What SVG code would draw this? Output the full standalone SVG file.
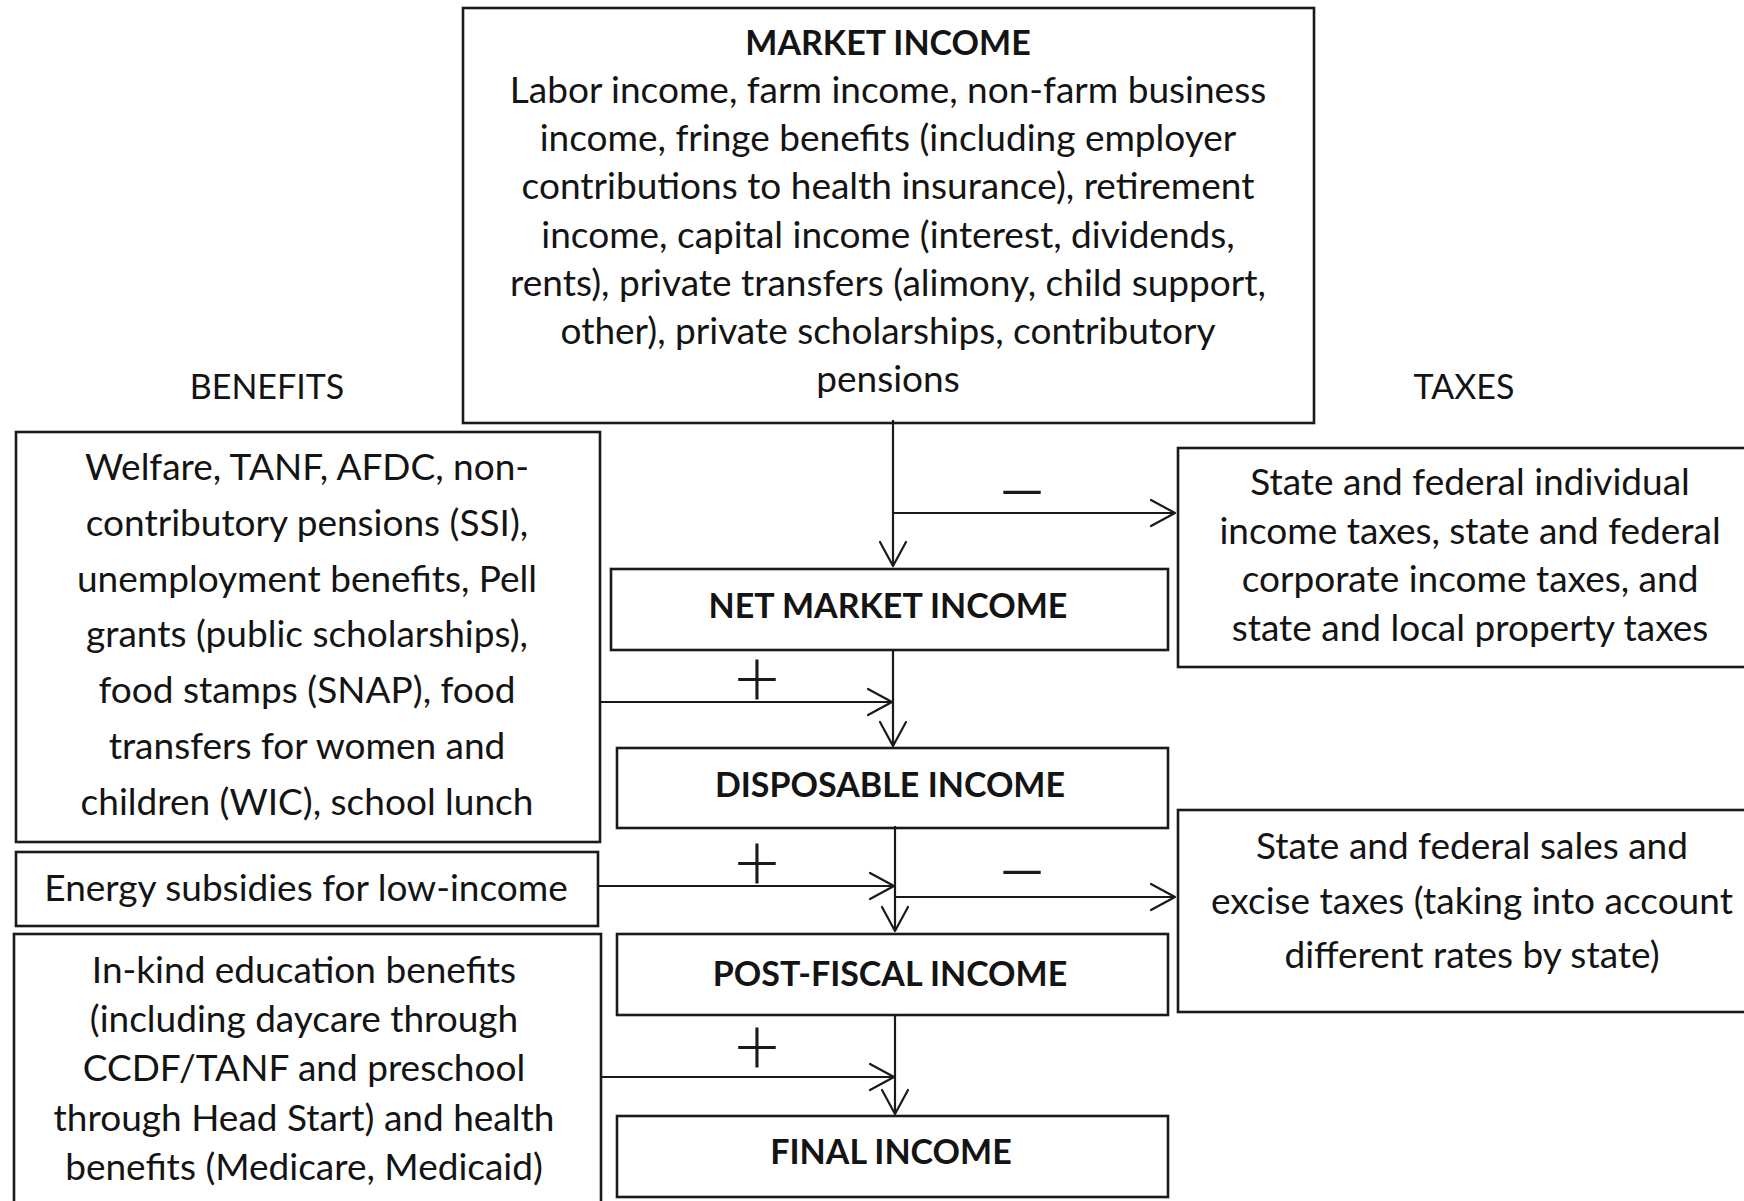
<svg xmlns="http://www.w3.org/2000/svg" width="1744" height="1201" viewBox="0 0 1744 1201">
  <defs>
    <marker id="open-arrow" markerUnits="userSpaceOnUse" markerWidth="40" markerHeight="40" viewBox="-30 -20 40 40" refX="0" refY="0" orient="auto" overflow="visible">
      <path d="M -24 -13 L 0 0 L -24 13" fill="none" stroke="#1a1a1a" stroke-width="2.2" stroke-linecap="round" stroke-linejoin="round"/>
    </marker>
    <style>
      .box { fill: #ffffff; stroke: #1a1a1a; stroke-width: 2.6; }
      .txt { font-family: Lato, "Open Sans", "Liberation Sans", sans-serif; font-size: 37px; fill: #141414; text-anchor: middle; }
      .head { font-size: 34px; }
      .title { font-weight: bold; font-size: 34px; }
      .sign { font-family: Lato, "DejaVu Sans", sans-serif; font-weight: 300; fill: #1a1a1a; text-anchor: middle; }
      .plus { font-size: 80px; }
      .minus { font-size: 95px; }
      .wire { fill: none; stroke: #1a1a1a; stroke-width: 2.2; }
      .arrow { marker-end: url(#open-arrow); }
    </style>
  </defs>

  <rect width="1744" height="1201" fill="#ffffff"/>

  <!-- column headings -->
  <g id="benefits-label">
    <text class="txt head" x="267" y="399">BENEFITS</text>
  </g>
  <g id="taxes-label">
    <text class="txt head" x="1464" y="399">TAXES</text>
  </g>

  <!-- top box -->
  <g id="market-income">
    <rect class="box" x="463" y="8" width="851" height="415"/>
    <text class="txt title" x="888" y="55">MARKET INCOME</text>
    <text class="txt" x="888" y="103">Labor income, farm income, non-farm business</text>
    <text class="txt" x="888" y="151">income, fringe benefits (including employer</text>
    <text class="txt" x="888" y="199">contributions to health insurance), retirement</text>
    <text class="txt" x="888" y="248">income, capital income (interest, dividends,</text>
    <text class="txt" x="888" y="296">rents), private transfers (alimony, child support,</text>
    <text class="txt" x="888" y="344">other), private scholarships, contributory</text>
    <text class="txt" x="888" y="392">pensions</text>
  </g>

  <!-- income stages -->
  <g id="net-market-income">
    <rect class="box" x="611" y="569" width="557" height="81"/>
    <text class="txt title" x="888" y="618">NET MARKET INCOME</text>
  </g>
  <g id="disposable-income">
    <rect class="box" x="617" y="748" width="551" height="80"/>
    <text class="txt title" x="890" y="797">DISPOSABLE INCOME</text>
  </g>
  <g id="post-fiscal-income">
    <rect class="box" x="617" y="934" width="551" height="81"/>
    <text class="txt title" x="890" y="986">POST-FISCAL INCOME</text>
  </g>
  <g id="final-income">
    <rect class="box" x="617" y="1116" width="551" height="81"/>
    <text class="txt title" x="891" y="1164">FINAL INCOME</text>
  </g>

  <!-- benefit sources -->
  <g id="cash-benefits">
    <rect class="box" x="16" y="432" width="584" height="410"/>
    <text class="txt" x="307" y="480">Welfare, TANF, AFDC, non-</text>
    <text class="txt" x="307" y="536">contributory pensions (SSI),</text>
    <text class="txt" x="307" y="592">unemployment benefits, Pell</text>
    <text class="txt" x="307" y="647">grants (public scholarships),</text>
    <text class="txt" x="307" y="703">food stamps (SNAP), food</text>
    <text class="txt" x="307" y="759">transfers for women and</text>
    <text class="txt" x="307" y="815">children (WIC), school lunch</text>
  </g>
  <g id="energy-subsidies">
    <rect class="box" x="16" y="852" width="582" height="74"/>
    <text class="txt" x="306" y="901">Energy subsidies for low-income</text>
  </g>
  <g id="in-kind-benefits">
    <rect class="box" x="14" y="934" width="587" height="290"/>
    <text class="txt" x="304" y="983">In-kind education benefits</text>
    <text class="txt" x="304" y="1032">(including daycare through</text>
    <text class="txt" x="304" y="1081">CCDF/TANF and preschool</text>
    <text class="txt" x="304" y="1131">through Head Start) and health</text>
    <text class="txt" x="304" y="1180">benefits (Medicare, Medicaid)</text>
  </g>

  <!-- tax sinks -->
  <g id="direct-taxes">
    <rect class="box" x="1178" y="448" width="590" height="219"/>
    <text class="txt" x="1470" y="495">State and federal individual</text>
    <text class="txt" x="1470" y="544">income taxes, state and federal</text>
    <text class="txt" x="1470" y="592">corporate income taxes, and</text>
    <text class="txt" x="1470" y="641">state and local property taxes</text>
  </g>
  <g id="indirect-taxes">
    <rect class="box" x="1178" y="810" width="590" height="202"/>
    <text class="txt" x="1472" y="859">State and federal sales and</text>
    <text class="txt" x="1472" y="914">excise taxes (taking into account</text>
    <text class="txt" x="1472" y="968">different rates by state)</text>
  </g>

  <!-- flow lines -->
  <g id="connectors">
    <line class="wire arrow" x1="893" y1="420" x2="893" y2="566"/>
    <line class="wire arrow" x1="893" y1="513" x2="1175" y2="513"/>
    <line class="wire arrow" x1="893" y1="650" x2="893" y2="746"/>
    <line class="wire arrow" x1="601" y1="702" x2="892" y2="702"/>
    <line class="wire arrow" x1="895" y1="826" x2="895" y2="931"/>
    <line class="wire arrow" x1="598" y1="886" x2="894" y2="886"/>
    <line class="wire arrow" x1="895" y1="897" x2="1175" y2="897"/>
    <line class="wire arrow" x1="895" y1="1015" x2="895" y2="1114"/>
    <line class="wire arrow" x1="601" y1="1077" x2="894" y2="1077"/>
  </g>

  <!-- operation signs -->
  <g id="signs">
    <text class="sign plus" x="757" y="707">+</text>
    <text class="sign plus" x="757" y="891">+</text>
    <text class="sign plus" x="757" y="1075">+</text>
    <text class="sign minus" x="1022" y="520">–</text>
    <text class="sign minus" x="1022" y="900">–</text>
  </g>
</svg>
